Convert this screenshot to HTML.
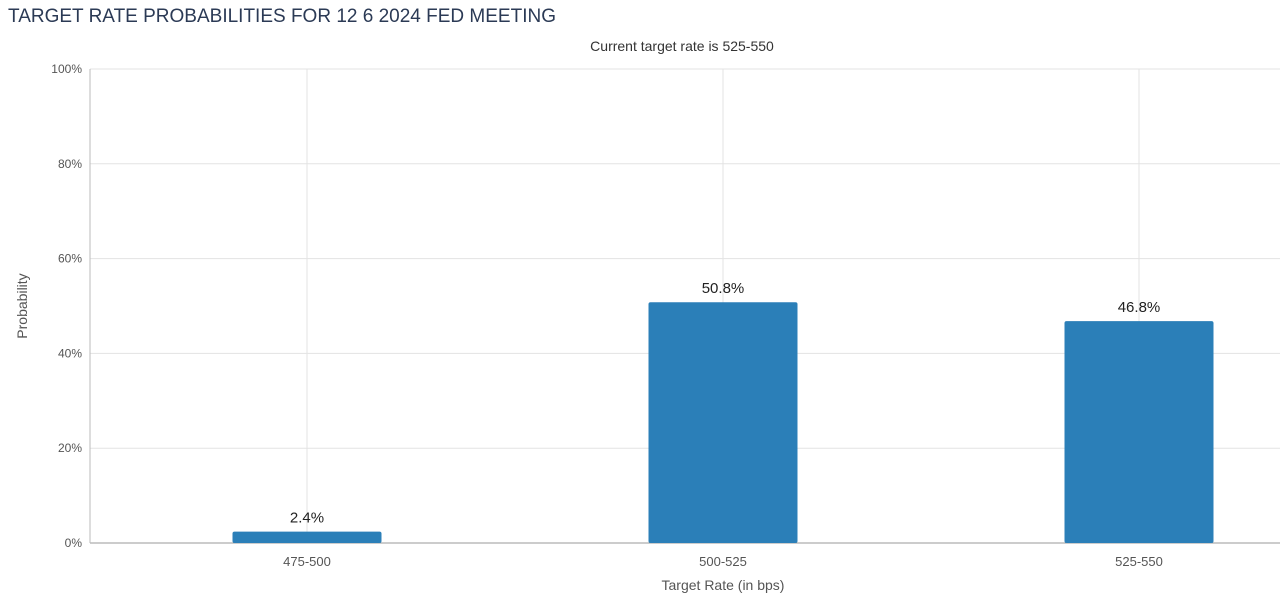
<!DOCTYPE html>
<html><head><meta charset="utf-8"><style>
html,body{margin:0;padding:0;background:#fff;width:1280px;height:600px;overflow:hidden;font-family:"Liberation Sans",sans-serif;}
</style></head><body>
<svg id="chart" width="1280" height="600" xmlns="http://www.w3.org/2000/svg" font-family="Liberation Sans, sans-serif">
<text x="8" y="22" font-size="19" fill="#2b3a55">TARGET RATE PROBABILITIES FOR 12 6 2024 FED MEETING</text>
<text x="682" y="51" font-size="14" fill="#333" text-anchor="middle">Current target rate is 525-550</text>
<text transform="translate(27,306) rotate(-90)" font-size="14" fill="#555" text-anchor="middle">Probability</text>
<text x="723" y="590" font-size="14" fill="#555" text-anchor="middle">Target Rate (in bps)</text>
<g id="grid"></g><g id="bars"></g><g id="labels"></g>
</svg>
<script>
const categories = ["475-500","500-525","525-550"];
const values = [2.4, 50.8, 46.8];
const yTicks = [0,20,40,60,80,100];
const svg = document.getElementById('chart');
const NS = 'http://www.w3.org/2000/svg';
const x0 = 90, x1 = 1280, yTop = 69, yBot = 543;
const y = v => yBot - (v/100)*(yBot-yTop);
const bandW = 416, firstCenter = 307;
const xc = i => firstCenter + i*bandW;
function mk(tag, attrs, parent){const e=document.createElementNS(NS,tag);for(const k in attrs)e.setAttribute(k,attrs[k]);parent.appendChild(e);return e;}
const grid = document.getElementById('grid');
yTicks.forEach(t=>{
  const l = mk('line',{x1:x0,x2:x1,y1:y(t),y2:y(t),stroke:t===0?'#999':'#e3e3e3','stroke-width':1},grid);
  
  
  const tx = mk('text',{x:x0-8,y:y(t)+4,'font-size':12,fill:'#555','text-anchor':'end'},grid);
  tx.textContent = t+'%';
  
  
});
const ax = mk('line',{x1:x0,x2:x0,y1:yTop,y2:yBot,stroke:'#bbb'},grid);


categories.forEach((c,i)=>{
  const g = mk('line',{x1:xc(i),x2:xc(i),y1:yTop,y2:yBot,stroke:'#e3e3e3'},grid);
  
  
  const t = mk('text',{x:xc(i),y:yBot+23,'font-size':13,fill:'#555','text-anchor':'middle'},grid);
  t.textContent = c;
  
  
});
const bars = document.getElementById('bars'), labels = document.getElementById('labels');
const bw = 149;
values.forEach((v,i)=>{
  const r = mk('rect',{x:xc(i)-bw/2,y:y(v),width:bw,height:yBot-y(v),fill:'#2b7fb8',rx:2},bars);
  
  
  const t = mk('text',{x:xc(i),y:y(v)-9,'font-size':15,fill:'#222','text-anchor':'middle'},labels);
  t.textContent = v.toFixed(1)+'%';
  
  
});
</script>
</body></html>
